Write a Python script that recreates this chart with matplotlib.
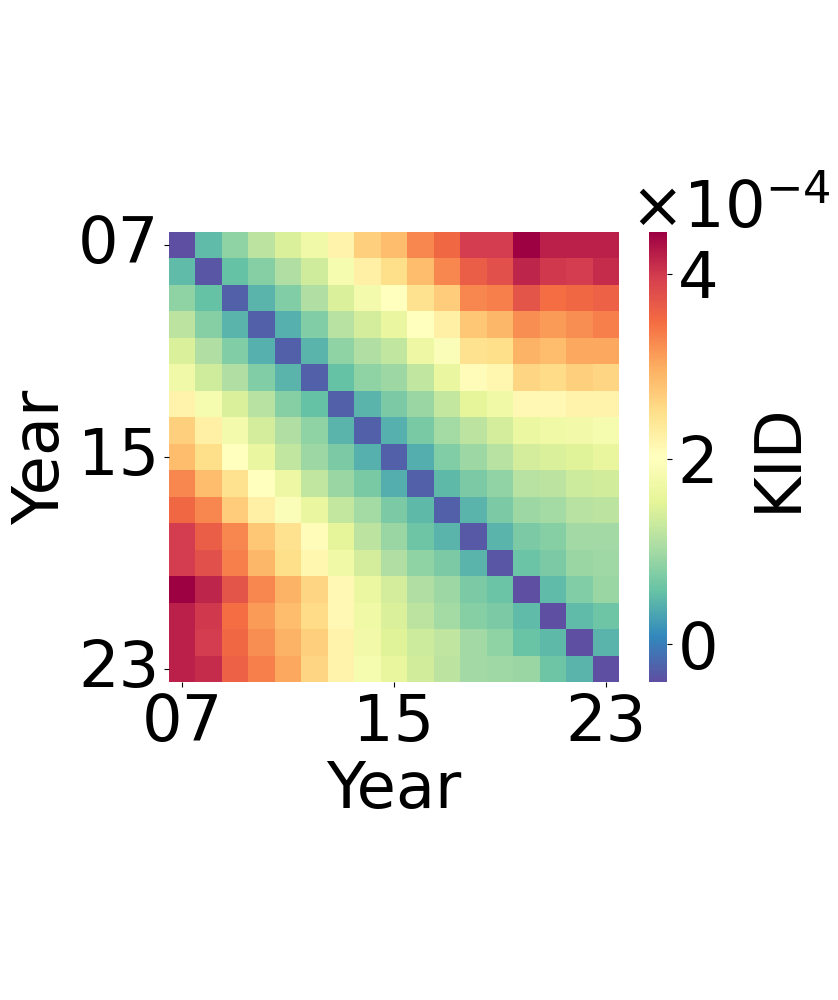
import numpy as np
import pandas as pd
import matplotlib
matplotlib.use("Agg")
import matplotlib.pyplot as plt
import seaborn as sns
from matplotlib.ticker import ScalarFormatter

years = ["07", "08", "09", "10", "11", "12", "13", "14", "15",
         "16", "17", "18", "19", "20", "21", "22", "23"]

# KID between years, in units of 1e-4
kid = [
    [-0.41, 0.51, 0.85, 1.20, 1.44, 1.73, 2.20, 2.65, 2.85, 3.28, 3.53, 3.96, 3.96, 4.45, 4.20, 4.20, 4.20],
    [0.51, -0.35, 0.56, 0.80, 1.10, 1.34, 1.83, 2.26, 2.51, 2.85, 3.28, 3.63, 3.77, 4.16, 4.01, 3.96, 4.10],
    [0.85, 0.56, -0.26, 0.46, 0.75, 1.10, 1.44, 1.78, 2.02, 2.46, 2.70, 3.28, 3.33, 3.72, 3.48, 3.53, 3.58],
    [1.20, 0.80, 0.46, -0.26, 0.42, 0.75, 1.15, 1.39, 1.63, 2.02, 2.26, 2.75, 2.90, 3.23, 3.13, 3.23, 3.33],
    [1.44, 1.10, 0.75, 0.42, -0.26, 0.46, 0.85, 1.10, 1.24, 1.68, 1.92, 2.46, 2.51, 2.95, 2.85, 3.04, 3.04],
    [1.73, 1.34, 1.10, 0.75, 0.46, -0.26, 0.56, 0.85, 0.95, 1.24, 1.63, 2.07, 2.17, 2.60, 2.55, 2.65, 2.60],
    [2.20, 1.83, 1.44, 1.15, 0.80, 0.56, -0.26, 0.46, 0.72, 0.93, 1.26, 1.55, 1.70, 2.12, 2.12, 2.20, 2.20],
    [2.65, 2.26, 1.78, 1.39, 1.10, 0.85, 0.46, -0.26, 0.42, 0.70, 1.00, 1.20, 1.39, 1.65, 1.70, 1.76, 1.83],
    [2.85, 2.51, 2.02, 1.63, 1.24, 0.95, 0.72, 0.42, -0.26, 0.40, 0.76, 0.95, 1.15, 1.39, 1.44, 1.50, 1.60],
    [3.28, 2.85, 2.46, 2.02, 1.68, 1.24, 0.93, 0.70, 0.40, -0.26, 0.50, 0.72, 0.88, 1.15, 1.20, 1.32, 1.37],
    [3.53, 3.28, 2.70, 2.26, 1.92, 1.63, 1.26, 1.00, 0.72, 0.50, -0.26, 0.46, 0.72, 0.95, 1.00, 1.16, 1.20],
    [3.96, 3.63, 3.28, 2.75, 2.46, 2.07, 1.55, 1.20, 0.93, 0.62, 0.46, -0.33, 0.46, 0.72, 0.80, 0.98, 0.98],
    [3.96, 3.77, 3.33, 2.90, 2.51, 2.17, 1.70, 1.39, 1.10, 0.85, 0.72, 0.46, -0.35, 0.60, 0.72, 0.92, 0.97],
    [4.45, 4.16, 3.72, 3.28, 2.95, 2.60, 2.12, 1.65, 1.39, 1.10, 0.95, 0.72, 0.60, -0.41, 0.52, 0.75, 0.92],
    [4.20, 4.01, 3.48, 3.13, 2.85, 2.55, 2.12, 1.70, 1.44, 1.20, 1.00, 0.80, 0.72, 0.52, -0.41, 0.52, 0.62],
    [4.20, 3.96, 3.53, 3.23, 2.95, 2.65, 2.20, 1.76, 1.50, 1.32, 1.22, 0.98, 0.86, 0.58, 0.50, -0.41, 0.45],
    [4.20, 4.10, 3.58, 3.33, 3.04, 2.60, 2.20, 1.83, 1.60, 1.37, 1.20, 0.98, 0.97, 0.92, 0.62, 0.45, -0.41],
]

cbar_ticks = [0, 2e-4, 4e-4]

FS = 46

df = pd.DataFrame(np.array(kid) * 1e-4, index=years, columns=years)

fig = plt.figure(figsize=(8.38, 10), dpi=100)
ax = fig.add_axes([169 / 838, 0.318, 450 / 838, 0.45])
cax = fig.add_axes([649 / 838, 0.318, 18 / 838, 0.45])

sns.heatmap(df, ax=ax, cbar_ax=cax, cmap="Spectral_r",
            xticklabels=8, yticklabels=8)

ax.set_xlabel("Year", fontsize=FS)
ax.set_ylabel("Year", fontsize=FS)
ax.tick_params(axis="both", labelsize=FS)
plt.setp(ax.get_yticklabels(), rotation=0)
plt.setp(ax.get_xticklabels(), rotation=0)

cbar = ax.collections[0].colorbar
fmt = ScalarFormatter(useMathText=True)
fmt.set_powerlimits((0, 0))
cbar.formatter = fmt
cbar.set_ticks(cbar_ticks)
cbar.update_ticks()
cbar.ax.tick_params(labelsize=FS)
off = cbar.ax.yaxis.get_offset_text()
off.set_fontsize(FS)
off.set_horizontalalignment("left")
off.set_x(-19 / 18)
cbar.set_label("KID", fontsize=FS, labelpad=22)

fig.savefig("out.png", dpi=100)
